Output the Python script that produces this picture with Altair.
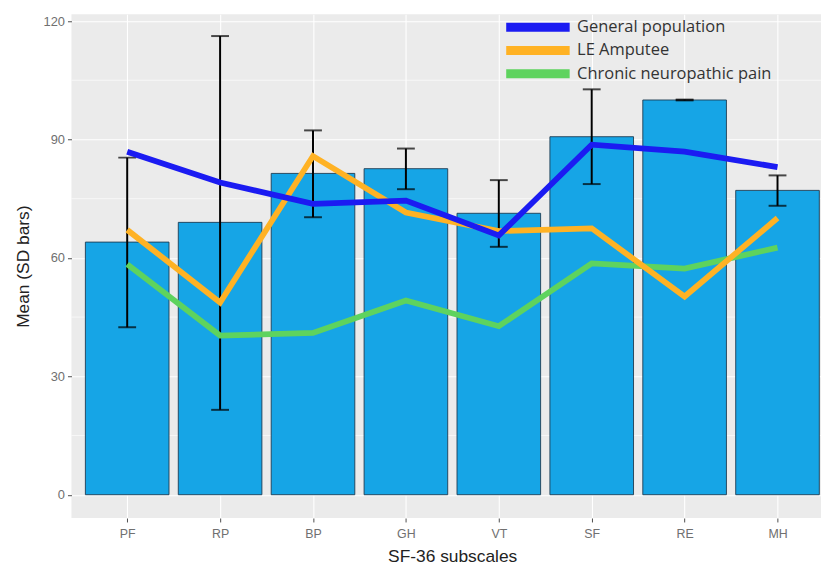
import altair as alt
import pandas as pd

categories = ["PF", "RP", "BP", "GH", "VT", "SF", "RE", "MH"]
bar_means = [64.0, 69.0, 81.4, 82.6, 71.3, 90.7, 100.0, 77.1]
sd_upper = [85.4, 116.2, 92.3, 87.7, 79.7, 102.7, 100.1, 80.9]
sd_lower = [42.4, 21.5, 70.3, 77.4, 62.8, 78.7, 99.9, 73.2]

series_names = ["General population", "LE Amputee", "Chronic neuropathic pain"]
general_population = [86.9, 79.1, 73.7, 74.5, 65.7, 88.7, 86.9, 83.0]
le_amputee = [67.1, 48.7, 85.8, 71.5, 66.8, 67.5, 50.2, 70.1]
chronic_pain = [58.4, 40.3, 41.0, 49.2, 42.7, 58.6, 57.3, 62.6]
series_colors = ["#1B1BF2", "#FFB224", "#5ED35E"]

minor_grid = [15, 45, 75, 105]
major_ticks = [0, 30, 60, 90, 120]

bars = pd.DataFrame({
    "cat": categories,
    "idx": list(range(len(categories))),
    "mean": bar_means,
    "hi": sd_upper,
    "lo": sd_lower,
})

rows = []
# drawn bottom to top: chronic, LE, general
for name, vals in reversed(list(zip(series_names, [general_population, le_amputee, chronic_pain]))):
    for i, (c, v) in enumerate(zip(categories, vals)):
        rows.append({"series": name, "cat": c, "idx": i, "value": v})
lines = pd.DataFrame(rows)

label_expr = "[" + ",".join(f"'{c}'" for c in categories) + "][datum.value]"

xscale = alt.Scale(domain=[-0.6, 7.468], nice=False, zero=False)
yscale = alt.Scale(domain=[-5.9, 121.7], nice=False, zero=False)

xaxis = alt.Axis(
    values=list(range(len(categories))), labelExpr=label_expr,
    title="SF-36 subscales", titleX=384, titleAlign="center",
    grid=True, gridColor="white", gridWidth=1.1, domain=False,
    tickColor="#4D4D4D", tickSize=4, labelColor="#707070", labelFontSize=12.5,
    labelPadding=6, titleFontSize=17.5, titleFontWeight="normal", titleColor="#222222",
    titlePadding=7, labelFont="Liberation Sans", titleFont="Liberation Sans",
)
yaxis = alt.Axis(
    values=major_ticks, title="Mean (SD bars)",
    grid=True, gridColor="white", gridWidth=1.1, domain=False,
    tickColor="#4D4D4D", tickSize=4, labelColor="#707070", labelFontSize=13,
    labelPadding=3, titleFontSize=17.5, titleFontWeight="normal", titleColor="#222222",
    titlePadding=11, labelFont="Liberation Sans", titleFont="Liberation Sans",
)

base_bars = alt.Chart(bars)

minor = alt.Chart(pd.DataFrame({"v": minor_grid})).mark_rule(
    color="white", strokeWidth=0.6
).encode(y=alt.Y("v:Q", scale=yscale, axis=yaxis))

bar_layer = base_bars.transform_calculate(
    x0="datum.idx - 0.45", x1="datum.idx + 0.45"
).mark_bar(color="#16A5E6", stroke="#1D3B52", strokeWidth=0.9).encode(
    x=alt.X("x0:Q", scale=xscale, axis=xaxis),
    x2="x1:Q",
    y=alt.Y("mean:Q", scale=yscale, axis=yaxis),
    y2=alt.datum(0),
)

err_rule = base_bars.mark_rule(color="black", strokeWidth=2).encode(
    x=alt.X("idx:Q", scale=xscale), y=alt.Y("lo:Q", scale=yscale), y2="hi:Q"
)
cap_hi = base_bars.mark_tick(color="black", thickness=2, size=18, orient="horizontal").encode(
    x=alt.X("idx:Q", scale=xscale), y=alt.Y("hi:Q", scale=yscale)
)
cap_lo = base_bars.mark_tick(color="black", thickness=2, size=18, orient="horizontal").encode(
    x=alt.X("idx:Q", scale=xscale), y=alt.Y("lo:Q", scale=yscale)
)

line_layer = alt.Chart(lines).mark_line(strokeWidth=5.8, strokeJoin="miter").encode(
    x=alt.X("idx:Q", scale=xscale),
    y=alt.Y("value:Q", scale=yscale),
    color=alt.Color(
        "series:N",
        scale=alt.Scale(domain=series_names, range=series_colors),
        sort=series_names,
        legend=alt.Legend(
            title=None, orient="none", legendX=429, legendY=5,
            symbolType="M0,0H12.8", symbolSize=100, symbolStrokeWidth=9,
            labelFontSize=16.6, labelFont="Open Sans", labelColor="#333333",
            labelLimit=0, rowPadding=6.5, labelOffset=62, symbolOffset=0,
            clipHeight=16,
        ),
    ),
)

chart = alt.layer(minor, bar_layer, err_rule, cap_hi, cap_lo, line_layer).properties(
    width=756, height=508,
    autosize=alt.AutoSizeParams(type="none"),
    padding={"left": 64, "top": 4, "right": 0, "bottom": 45},
    background="white",
).configure_view(fill="#EBEBEB", stroke=None)

chart.save("out.html", embed_options={"renderer": "svg", "actions": False})
